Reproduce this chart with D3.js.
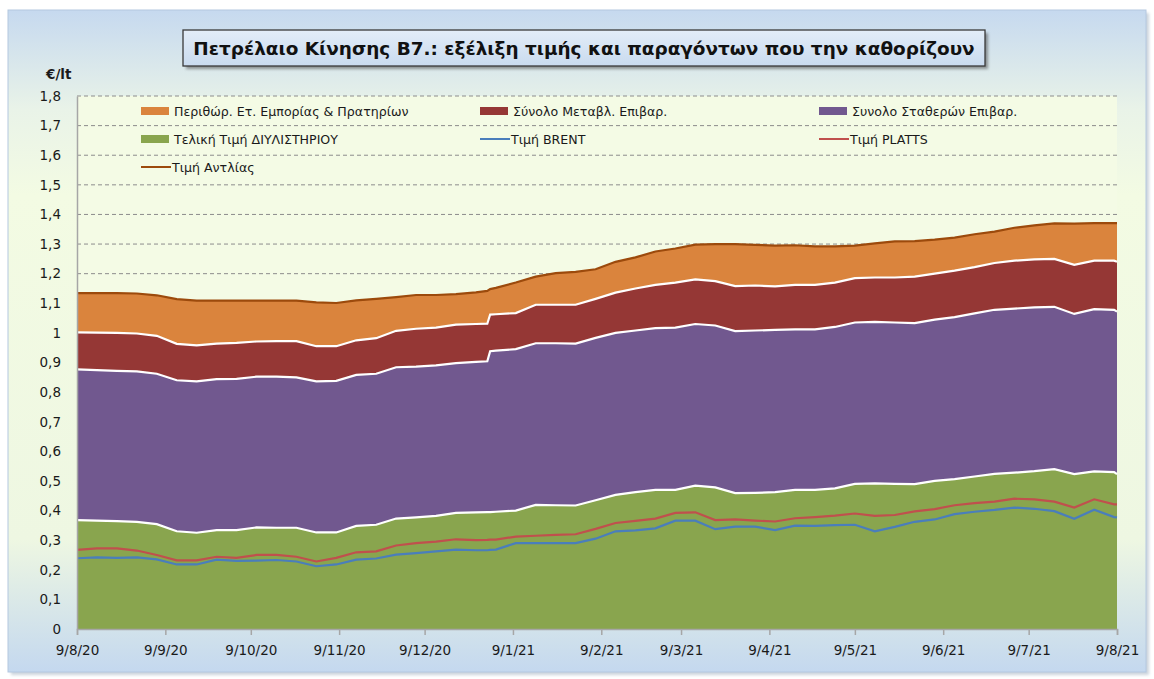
<!DOCTYPE html>
<html>
<head>
<meta charset="utf-8">
<script src="https://cdn.jsdelivr.net/npm/d3@7"></script>
<style>
  body { margin: 0; background: #fff; }
  svg { display: block; font-family: "DejaVu Sans", sans-serif; }
</style>
</head>
<body>
<svg width="1154" height="679"></svg>
<script>
// weekly readings, 9/8/2020 - 9/8/2021 (€/lt)
const dates = ["2020-08-09","2020-08-16","2020-08-23","2020-08-30","2020-09-06","2020-09-13","2020-09-20","2020-09-27",
  "2020-10-04","2020-10-11","2020-10-18","2020-10-25","2020-11-01","2020-11-08","2020-11-15","2020-11-22","2020-11-29",
  "2020-12-06","2020-12-13","2020-12-20","2020-12-27","2020-12-31","2021-01-01","2021-01-03","2021-01-10","2021-01-17",
  "2021-01-24","2021-01-31","2021-02-07","2021-02-14","2021-02-21","2021-02-28","2021-03-07","2021-03-14","2021-03-21",
  "2021-03-28","2021-04-04","2021-04-11","2021-04-18","2021-04-25","2021-05-02","2021-05-09","2021-05-16","2021-05-23",
  "2021-05-30","2021-06-06","2021-06-13","2021-06-20","2021-06-27","2021-07-04","2021-07-11","2021-07-18","2021-07-25",
  "2021-08-01","2021-08-08","2021-08-09"];

const refinery = [.368,.366,.364,.362,.354,.330,.325,.334,.334,.343,.342,.342,.326,.326,.348,.352,.373,.377,.382,.392,.394,
  .395,.395,.396,.400,.419,.418,.417,.435,.453,.462,.470,.470,.484,.478,.459,.460,.462,.470,.470,.475,.490,.492,.490,.489,
  .500,.506,.515,.524,.528,.533,.540,.523,.532,.530,.523];
const fixedTaxes = [.509,.508,.508,.508,.508,.510,.511,.510,.511,.509,.510,.508,.510,.512,.510,.510,.511,.509,.508,.506,.508,
  .509,.543,.544,.545,.546,.547,.547,.548,.547,.546,.546,.548,.546,.547,.547,.548,.548,.542,.542,.545,.545,.545,.545,.544,
  .545,.547,.551,.554,.554,.553,.548,.541,.548,.548,.549];
const variableTaxes = [.125,.127,.128,.128,.128,.123,.122,.120,.121,.119,.120,.122,.119,.117,.117,.120,.123,.128,.128,.130,.128,
  .127,.124,.123,.122,.130,.130,.131,.132,.136,.142,.146,.152,.151,.150,.152,.152,.147,.150,.150,.150,.150,.150,.152,.157,
  .155,.157,.156,.158,.162,.162,.162,.166,.164,.166,.168];
const margin = [.132,.133,.134,.135,.137,.151,.151,.145,.143,.138,.137,.137,.148,.146,.135,.133,.114,.114,.110,.103,.107,
  .111,.086,.089,.103,.095,.107,.111,.100,.104,.105,.113,.115,.117,.125,.142,.137,.138,.134,.130,.122,.110,.115,.122,.120,
  .115,.112,.111,.106,.111,.115,.120,.139,.127,.127,.131];
const brent = [.239,.242,.240,.242,.235,.218,.218,.234,.230,.231,.233,.228,.212,.218,.234,.238,.251,.256,.262,.268,.266,
  .266,.267,.268,.290,.290,.290,.290,.305,.330,.333,.340,.366,.366,.337,.346,.346,.334,.349,.348,.351,.352,.330,.345,.362,
  .370,.388,.396,.402,.410,.406,.398,.372,.403,.378,.377];
const platts = [.267,.272,.272,.265,.250,.232,.232,.244,.240,.250,.250,.244,.228,.240,.259,.262,.282,.290,.295,.303,.300,
  .301,.302,.302,.312,.315,.318,.320,.338,.358,.365,.373,.392,.394,.368,.370,.366,.363,.374,.378,.383,.390,.382,.385,.397,
  .405,.418,.425,.430,.440,.438,.430,.410,.438,.421,.421];

const tickDates = ["2020-08-09","2020-09-09","2020-10-09","2020-11-09","2020-12-09","2021-01-09","2021-02-09",
  "2021-03-09","2021-04-09","2021-05-09","2021-06-09","2021-07-09","2021-08-09"];
const yTicks = [0,.1,.2,.3,.4,.5,.6,.7,.8,.9,1,1.1,1.2,1.3,1.4,1.5,1.6,1.7,1.8];

const title = "Πετρέλαιο Κίνησης Β7.: εξέλιξη τιμής και παραγόντων που την καθορίζουν";

const parse = d3.timeParse("%Y-%m-%d");
const rows = dates.map((d, i) => ({
  date: parse(d), refinery: refinery[i], fixed: fixedTaxes[i], variable: variableTaxes[i], margin: margin[i],
  brent: brent[i], platts: platts[i]
}));

const colors = {
  margin: "#da843d", variable: "#953735", fixed: "#71588f", refinery: "#89a54e",
  brent: "#4a7ebb", platts: "#c0504d", pump: "#9c4a0c"
};

const svg = d3.select("svg");
const defs = svg.append("defs");

const bg = defs.append("linearGradient").attr("id", "panelGrad").attr("x1", 0).attr("y1", 0).attr("x2", 0).attr("y2", 1);
bg.append("stop").attr("offset", "0%").attr("stop-color", "#c6d9ef");
bg.append("stop").attr("offset", "15%").attr("stop-color", "#e9f3e8");
bg.append("stop").attr("offset", "28%").attr("stop-color", "#f3fbe3");
bg.append("stop").attr("offset", "80%").attr("stop-color", "#eef7e2");
bg.append("stop").attr("offset", "100%").attr("stop-color", "#c4d8ef");

const tg = defs.append("linearGradient").attr("id", "titleGrad").attr("x1", 0).attr("y1", 0).attr("x2", 0).attr("y2", 1);
tg.append("stop").attr("offset", "0%").attr("stop-color", "#e3edf8");
tg.append("stop").attr("offset", "100%").attr("stop-color", "#c9dbef");

const blur = defs.append("filter").attr("id", "shadow").attr("x", "-5%").attr("y", "-5%").attr("width", "110%").attr("height", "130%");
blur.append("feGaussianBlur").attr("stdDeviation", 1.5);

// outer panel
svg.append("rect").attr("x", 11).attr("y", 13).attr("width", 1138).attr("height", 662)
  .attr("fill", "#9aaabb").attr("opacity", 0.5).attr("filter", "url(#shadow)");
svg.append("rect").attr("x", 8).attr("y", 10).attr("width", 1138).attr("height", 662)
  .attr("fill", "url(#panelGrad)").attr("stroke", "#b4c8e0");

const margins = { left: 77, right: 1117, top: 96, bottom: 629 };

const x = d3.scaleTime()
  .domain([parse(dates[0]), parse(dates[dates.length - 1])])
  .range([margins.left, margins.right]);
const y = d3.scaleLinear().domain([0, 1.8]).range([margins.bottom, margins.top]);

// plot area
svg.append("rect").attr("x", margins.left).attr("y", margins.top)
  .attr("width", margins.right - margins.left).attr("height", margins.bottom - margins.top)
  .attr("fill", "#f4fbe5");

// gridlines
svg.append("g").selectAll("line").data(yTicks.filter(t => t > 0)).join("line")
  .attr("x1", margins.left).attr("x2", margins.right)
  .attr("y1", d => y(d)).attr("y2", d => y(d))
  .attr("stroke", "#8c8c8c").attr("stroke-width", 1).attr("stroke-dasharray", "4,3");

const stack = d3.stack().keys(["refinery", "fixed", "variable", "margin"]);
const layers = stack(rows);

const area = d3.area()
  .x(d => x(d.data.date))
  .y0(d => y(d[0]))
  .y1(d => y(d[1]));

svg.append("g").selectAll("path").data(layers).join("path")
  .attr("d", area)
  .attr("fill", d => colors[d.key]);

const topLine = d3.line().x(d => x(d.data.date)).y(d => y(d[1]));

svg.append("g").selectAll("path").data(layers.slice(0, 3)).join("path")
  .attr("d", topLine)
  .attr("fill", "none").attr("stroke", "#ffffff").attr("stroke-width", 2.2);

svg.append("path").datum(layers[3])
  .attr("d", topLine)
  .attr("fill", "none").attr("stroke", colors.pump).attr("stroke-width", 2.2);

["brent", "platts"].forEach(k => {
  svg.append("path").datum(rows)
    .attr("d", d3.line().x(d => x(d.date)).y(d => y(d[k])))
    .attr("fill", "none").attr("stroke", colors[k]).attr("stroke-width", 2.2);
});

// axes
const fmtY = d3.format(".1f");
const yAxis = svg.append("g").attr("transform", `translate(${margins.left},0)`)
  .call(d3.axisLeft(y).tickValues(yTicks).tickSize(0).tickPadding(16)
    .tickFormat(d => d === 0 || d === 1 ? String(d) : fmtY(d).replace(".", ",")));
yAxis.select(".domain").attr("stroke", "#a6a6a6").attr("stroke-width", 1.5);
yAxis.selectAll("text").attr("font-size", 13.5).attr("fill", "#1a1a1a").attr("font-family", "DejaVu Sans");

const xAxis = svg.append("g").attr("transform", `translate(0,${margins.bottom})`)
  .call(d3.axisBottom(x).tickValues(tickDates.map(parse)).tickSize(6).tickPadding(10)
    .tickFormat(d3.timeFormat("%-d/%-m/%y")));
xAxis.select(".domain").attr("stroke", "#a6a6a6").attr("stroke-width", 1.5);
xAxis.selectAll(".tick line").attr("stroke", "#a6a6a6").attr("stroke-width", 1.5);
xAxis.selectAll("text").attr("font-size", 13.5).attr("fill", "#1a1a1a").attr("font-family", "DejaVu Sans");

svg.append("text").attr("x", 46).attr("y", 79).text("€/lt")
  .attr("font-size", 13.5).attr("font-weight", "bold").attr("fill", "#1a1a1a");

// title
const tbox = { x: 183, y: 30, w: 802, h: 36 };
svg.append("rect").attr("x", tbox.x + 3).attr("y", tbox.y + 3).attr("width", tbox.w).attr("height", tbox.h)
  .attr("fill", "#555").attr("opacity", 0.6).attr("filter", "url(#shadow)");
svg.append("rect").attr("x", tbox.x).attr("y", tbox.y).attr("width", tbox.w).attr("height", tbox.h)
  .attr("fill", "url(#titleGrad)").attr("stroke", "#3a3a3a").attr("stroke-width", 1.3);
const tt = svg.append("text").attr("x", tbox.x + tbox.w / 2).attr("y", tbox.y + 25)
  .attr("text-anchor", "middle").attr("font-size", 18).attr("font-weight", "bold").attr("fill", "#111")
  .text(title);
const tw = tt.node().getComputedTextLength();
tt.attr("font-size", 18 * 782 / tw);

// legend
const legend = [
  { label: "Περιθώρ. Ετ. Εμπορίας & Πρατηρίων", color: colors.margin, type: "rect", col: 0, row: 0 },
  { label: "Σύνολο Μεταβλ. Επιβαρ.", color: colors.variable, type: "rect", col: 1, row: 0 },
  { label: "Συνολο Σταθερών Επιβαρ.", color: colors.fixed, type: "rect", col: 2, row: 0 },
  { label: "Τελική Τιμή ΔΙΥΛΙΣΤΗΡΙΟΥ", color: colors.refinery, type: "rect", col: 0, row: 1 },
  { label: "Τιμή BRENT", color: colors.brent, type: "line", col: 1, row: 1 },
  { label: "Τιμή PLATTS", color: colors.platts, type: "line", col: 2, row: 1 },
  { label: "Τιμή Αντλίας", color: colors.pump, type: "line", col: 0, row: 2 }
];
const colX = [141, 480, 819];
const rowY = [111, 139, 167];
const lg = svg.append("g").selectAll("g").data(legend).join("g")
  .attr("transform", d => `translate(${colX[d.col]},${rowY[d.row]})`);
lg.filter(d => d.type === "rect").append("rect")
  .attr("x", 0).attr("y", -4).attr("width", 28).attr("height", 8).attr("fill", d => d.color);
lg.filter(d => d.type === "line").append("line")
  .attr("x1", 0).attr("x2", 30).attr("y1", 0).attr("y2", 0).attr("stroke", d => d.color).attr("stroke-width", 2);
lg.append("text").attr("x", d => d.type === "rect" ? 33 : 31).attr("y", 4.5)
  .attr("font-size", 12.6).attr("fill", "#1a1a1a").text(d => d.label);
</script>
</body>
</html>
